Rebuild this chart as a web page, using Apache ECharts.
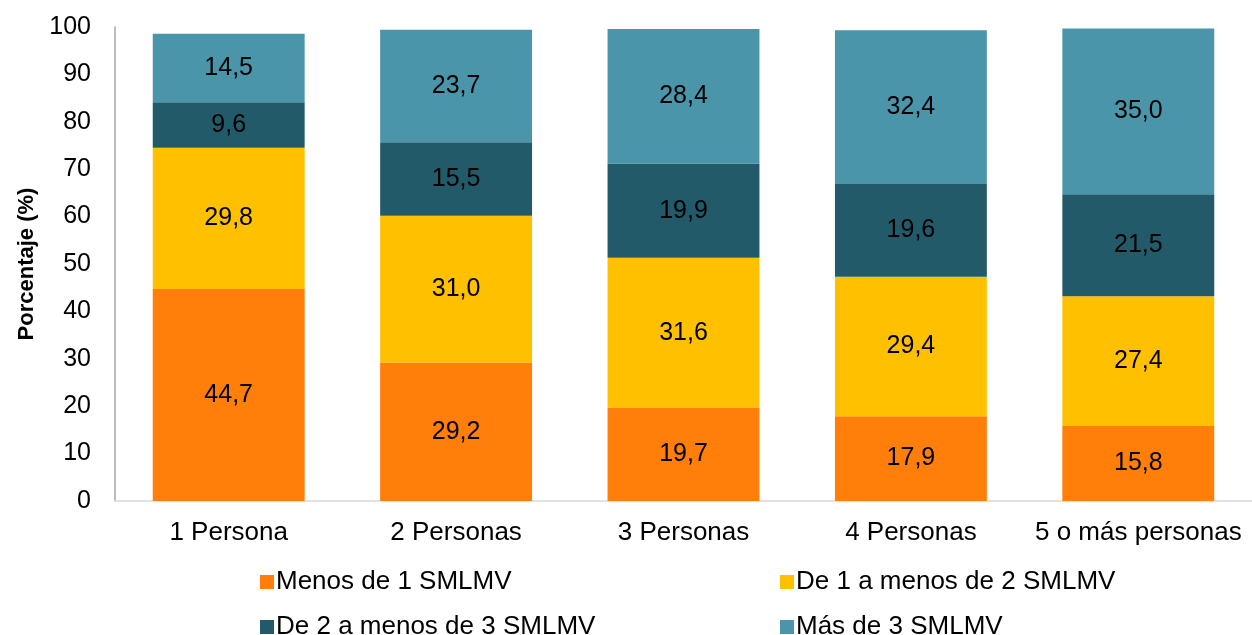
<!DOCTYPE html>
<html>
<head>
<meta charset="utf-8">
<script src="https://cdn.jsdelivr.net/npm/echarts@6/dist/echarts.min.js"></script>
<style>
  html, body { margin: 0; padding: 0; background: #fff; }
  #chart { width: 1252px; height: 635px; }
</style>
</head>
<body>
<div id="chart"></div>
<script>
// --- data ------------------------------------------------------------------
const categories = ["1 Persona", "2 Personas", "3 Personas", "4 Personas", "5 o más personas"];
const seriesNames = ["Menos de 1 SMLMV", "De 1 a menos de 2 SMLMV", "De 2 a menos de 3 SMLMV", "Más de 3 SMLMV"];
const menos1 = [44.7, 29.2, 19.7, 17.9, 15.8];
const de1a2 = [29.8, 31.0, 31.6, 29.4, 27.4];
const de2a3 = [9.6, 15.5, 19.9, 19.6, 21.5];
const mas3 = [14.5, 23.7, 28.4, 32.4, 35.0];
const yTicks = { min: 0, max: 100, interval: 10 };

const COLORS = ["#FF7F0A", "#FFC000", "#235A69", "#4A95A9"];
const FONT = "'Liberation Sans', Arial, sans-serif";
// legend slots: [left, top] for each series, two columns x two rows
const LEGEND_POS = [[255, 564], [775, 564], [255, 609], [775, 609]];

const fmt = (v) => v.toFixed(1).replace(".", ",");

const chart = echarts.init(document.getElementById("chart"), null, { renderer: "canvas" });

const mkSeries = (name, data, i) => ({
  name,
  type: "bar",
  stack: "total",
  data,
  barWidth: "66.8%",
  itemStyle: { color: COLORS[i] },
  label: {
    show: true,
    position: "inside",
    color: "#000",
    fontFamily: FONT,
    fontSize: 25,
    formatter: (p) => fmt(p.value),
  },
});

chart.setOption({
  animation: false,
  textStyle: { fontFamily: FONT },
  // plot area runs a little past the right edge of the canvas, as in the source
  grid: { left: 115, right: -7, top: 27, bottom: 134, containLabel: false },
  legend: seriesNames.map((n, i) => ({
    data: [n],
    left: LEGEND_POS[i][0],
    top: LEGEND_POS[i][1],
    itemWidth: 14,
    itemHeight: 14,
    icon: "rect",
    textStyle: { fontSize: 26, color: "#000", fontFamily: FONT, padding: [0, 0, 0, -3] },
  })),
  xAxis: {
    type: "category",
    data: categories,
    axisLine: { show: true, lineStyle: { color: "#D9D9D9", width: 1.5 } },
    axisTick: { show: false },
    axisLabel: { color: "#000", fontSize: 26, margin: 19, interval: 0, fontFamily: FONT },
  },
  yAxis: {
    type: "value",
    min: yTicks.min,
    max: yTicks.max,
    interval: yTicks.interval,
    name: "Porcentaje (%)",
    nameLocation: "middle",
    nameGap: 75,
    nameTextStyle: { fontSize: 22, fontWeight: "bold", color: "#000", fontFamily: FONT },
    axisLine: { show: true, lineStyle: { color: "#A6A6A6", width: 1.5 } },
    axisTick: { show: false },
    splitLine: { show: false },
    axisLabel: { color: "#000", fontSize: 25, margin: 24, fontFamily: FONT },
  },
  series: [
    mkSeries(seriesNames[0], menos1, 0),
    mkSeries(seriesNames[1], de1a2, 1),
    mkSeries(seriesNames[2], de2a3, 2),
    mkSeries(seriesNames[3], mas3, 3),
  ],
});
</script>
</body>
</html>
